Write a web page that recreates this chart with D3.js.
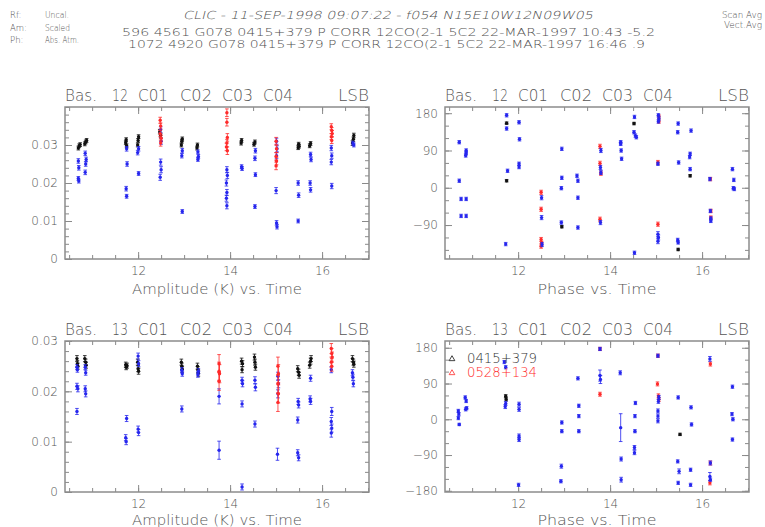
<!DOCTYPE html>
<html>
<head>
<meta charset="utf-8">
<script src="https://cdn.jsdelivr.net/npm/d3@7"></script>
<style>
  body { margin: 0; background: #fff; }
  text { font-family: "DejaVu Sans", sans-serif; fill: #555; }
</style>
</head>
<body>
<div id="chart"></div>
<script>
// times in hours, [time, value, error]
var timeTicks = [12, 14, 16];
var ampTicks = [0, 0.01, 0.02, 0.03];
var phaseTicks = [-180, -90, 0, 90, 180];

var amp12Black = [
  [10.70,0.0292,0.0005],[10.72,0.0298,0.0005],[10.74,0.0301,0.0005],[10.84,0.0303,0.0005],[10.86,0.0308,0.0005],[10.88,0.0312,0.0005],
  [11.73,0.0306,0.0005],[11.74,0.0314,0.0005],[11.75,0.0298,0.0005],
  [11.99,0.0300,0.0005],[12.00,0.0312,0.0005],[12.01,0.0322,0.0005],
  [12.47,0.0335,0.0006],[12.49,0.0325,0.0006],
  [12.94,0.0300,0.0005],[12.95,0.0310,0.0005],[12.96,0.0316,0.0005],
  [13.28,0.0292,0.0005],[13.29,0.0300,0.0005],
  [14.24,0.0305,0.0005],[14.25,0.0312,0.0005],
  [14.52,0.0302,0.0005],[14.54,0.0308,0.0005],
  [15.48,0.0293,0.0005],[15.49,0.0302,0.0005],[15.50,0.0297,0.0005],
  [15.73,0.0298,0.0005],[15.75,0.0304,0.0005],
  [16.66,0.0305,0.0006],[16.68,0.0315,0.0006],[16.69,0.0325,0.0006]
];
var amp12Blue = [
  [10.70,0.0258,0.0006],[10.71,0.0240,0.0006],[10.70,0.0212,0.0005],[10.71,0.0205,0.0005],
  [10.85,0.0278,0.0006],[10.87,0.0262,0.0006],[10.86,0.0250,0.0006],[10.85,0.0228,0.0006],
  [11.75,0.0290,0.0006],[11.76,0.0250,0.0006],[11.74,0.0185,0.0006],[11.75,0.0165,0.0005],
  [11.99,0.0280,0.0006],[12.01,0.0290,0.0006],[12.01,0.0225,0.0005],
  [12.49,0.0340,0.0008],[12.50,0.0310,0.0008],[12.49,0.0255,0.0008],[12.50,0.0235,0.0008],[12.48,0.0215,0.0008],
  [12.96,0.0285,0.0006],[12.95,0.0272,0.0006],[12.96,0.0125,0.0005],
  [13.30,0.0282,0.0005],[13.31,0.0270,0.0005],[13.30,0.0262,0.0005],
  [13.93,0.0235,0.0008],[13.94,0.0220,0.0008],[13.92,0.0200,0.0008],[13.93,0.0175,0.0008],[13.92,0.0160,0.0008],[13.93,0.0140,0.0008],
  [14.25,0.0243,0.0005],[14.26,0.0238,0.0005],
  [14.55,0.0285,0.0006],[14.54,0.0265,0.0006],[14.55,0.0222,0.0005],[14.54,0.0138,0.0005],
  [15.01,0.0310,0.0008],[15.02,0.0290,0.0008],[15.01,0.0272,0.0008],[15.00,0.0180,0.0008],[15.01,0.0095,0.0006],[15.02,0.0085,0.0006],
  [15.48,0.0200,0.0006],[15.49,0.0168,0.0006],[15.48,0.0100,0.0005],
  [15.75,0.0275,0.0006],[15.76,0.0262,0.0006],[15.74,0.0200,0.0006],[15.75,0.0182,0.0006],
  [16.20,0.0292,0.0007],[16.21,0.0272,0.0007],[16.20,0.0255,0.0007],[16.21,0.0192,0.0007],
  [16.67,0.0305,0.0005],[16.69,0.0300,0.0005]
];
var amp12Red = [
  [12.48,0.0365,0.0008],[12.49,0.0350,0.0008],[12.48,0.0330,0.0008],[12.50,0.0318,0.0008],[12.49,0.0305,0.0008],
  [13.93,0.0385,0.0010],[13.93,0.0360,0.0010],[13.94,0.0320,0.0010],[13.93,0.0305,0.0010],[13.92,0.0295,0.0010],[13.94,0.0285,0.0010],
  [15.00,0.0310,0.0010],[15.01,0.0290,0.0010],[15.00,0.0270,0.0010],[15.01,0.0258,0.0010],[15.00,0.0245,0.0010],
  [16.20,0.0348,0.0008],[16.21,0.0338,0.0008],[16.22,0.0330,0.0008],[16.20,0.0322,0.0008],[16.21,0.0312,0.0008]
];

var ph12Black = [[11.75,156,3],[11.75,17,3],[12.95,-94,3],[14.52,155,3],[15.48,-149,3],[15.74,29,3]];
var ph12Blue = [
  [10.72,110,4],[10.72,17,4],[10.76,-27,4],[10.87,-27,4],[10.76,-68,4],[10.87,-68,4],[10.87,90,4],[10.87,84,4],[10.86,78,4],
  [11.75,175,4],[11.75,143,4],[11.77,41,4],[11.73,-136,4],
  [12.02,158,4],[12.03,117,4],[12.02,58,4],[12.02,50,4],
  [12.51,-24,5],[12.51,-72,5],[12.52,-137,5],
  [12.95,94,4],[12.95,24,4],[12.94,-1,4],[12.94,-84,4],
  [13.28,29,4],[13.30,17,4],[13.30,-24,4],[13.30,-96,4],
  [13.80,90,5],[13.79,49,5],[13.80,37,5],[13.79,-84,5],
  [14.23,110,4],[14.23,106,4],[14.24,90,4],[14.25,70,4],
  [14.53,171,4],[14.52,134,4],[14.55,126,4],[14.57,122,4],[14.53,-157,4],
  [15.05,175,4],[15.06,167,4],[15.05,160,4],[15.04,58,4],[15.04,-112,6],[15.05,-120,6],[15.04,-129,6],
  [15.48,155,4],[15.47,134,4],[15.49,61,4],[15.47,-126,4],[15.48,-132,4],
  [15.76,138,4],[15.74,82,4],[15.73,74,4],[15.74,45,4],
  [16.17,21,4],[16.18,-56,4],[16.19,-74,4],[16.19,-80,4],
  [16.66,45,4],[16.69,19,4],[16.68,-1,4],[16.70,-3,4]
];
var ph12Red = [
  [12.50,-11,5],[12.50,-52,5],[12.50,-125,5],[12.51,-134,5],[12.50,-141,5],
  [13.78,100,5],[13.78,59,5],[13.80,35,5],[13.78,-76,5],
  [15.04,61,5],[15.04,-88,5],[15.06,172,4],[15.06,160,4],
  [16.18,21,4],[16.19,-56,4],[16.19,-72,4]
];

var amp13Black = [
  [10.67,0.0265,0.0006],[10.68,0.0255,0.0006],[10.69,0.0250,0.0006],
  [10.84,0.0265,0.0006],[10.86,0.0258,0.0006],[10.87,0.0252,0.0006],
  [11.73,0.0253,0.0005],[11.74,0.0248,0.0005],[11.76,0.0251,0.0005],
  [11.99,0.0258,0.0006],[12.00,0.0245,0.0006],[12.01,0.0240,0.0006],
  [12.94,0.0258,0.0006],[12.95,0.0250,0.0006],[12.96,0.0244,0.0006],
  [13.29,0.0250,0.0006],[13.30,0.0243,0.0006],[13.31,0.0236,0.0006],
  [14.25,0.0260,0.0006],[14.27,0.0255,0.0006],[14.26,0.0243,0.0006],
  [14.53,0.0268,0.0006],[14.54,0.0258,0.0006],[14.55,0.0248,0.0006],
  [15.47,0.0245,0.0006],[15.49,0.0238,0.0006],[15.50,0.0232,0.0006],
  [15.73,0.0252,0.0006],[15.75,0.0260,0.0006],[15.76,0.0265,0.0006],
  [16.66,0.0265,0.0006],[16.68,0.0258,0.0006],[16.69,0.0254,0.0006]
];
var amp13Blue = [
  [10.67,0.0248,0.0005],[10.68,0.0243,0.0005],[10.67,0.0210,0.0006],[10.69,0.0205,0.0006],[10.67,0.0160,0.0006],
  [10.85,0.0248,0.0005],[10.86,0.0237,0.0005],[10.85,0.0205,0.0006],[10.86,0.0195,0.0006],
  [11.75,0.0146,0.0006],[11.73,0.0108,0.0006],[11.74,0.0100,0.0006],
  [12.00,0.0270,0.0006],[12.01,0.0255,0.0006],[12.00,0.0125,0.0006],[12.01,0.0118,0.0006],
  [12.95,0.0242,0.0005],[12.96,0.0235,0.0005],[12.95,0.0165,0.0006],
  [13.31,0.0240,0.0005],[13.30,0.0233,0.0005],
  [13.76,0.0190,0.0015],[13.76,0.0083,0.0018],
  [14.26,0.0222,0.0006],[14.27,0.0215,0.0006],[14.26,0.0175,0.0006],[14.26,0.0010,0.0006],
  [14.54,0.0222,0.0007],[14.55,0.0208,0.0007],[14.54,0.0135,0.0006],
  [15.04,0.0230,0.0008],[15.05,0.0215,0.0008],[15.04,0.0195,0.0008],[15.03,0.0075,0.0012],
  [15.48,0.0180,0.0006],[15.49,0.0173,0.0006],[15.47,0.0143,0.0006],[15.47,0.0078,0.0006],[15.49,0.0068,0.0006],
  [15.75,0.0226,0.0006],[15.74,0.0185,0.0006],[15.75,0.0180,0.0006],
  [16.20,0.0243,0.0006],[16.21,0.0160,0.0008],[16.20,0.0140,0.0008],[16.21,0.0127,0.0008],[16.20,0.0117,0.0008],
  [16.66,0.0237,0.0006],[16.67,0.0228,0.0006],[16.68,0.0215,0.0006]
];
var amp13Red = [
  [13.76,0.0255,0.0018],[13.76,0.0240,0.0018],[13.77,0.0235,0.0018],[13.76,0.0220,0.0018],
  [15.04,0.0250,0.0018],[15.05,0.0235,0.0018],[15.04,0.0215,0.0018],[15.05,0.0195,0.0018],[15.04,0.0178,0.0018],
  [16.20,0.0285,0.0010],[16.21,0.0275,0.0010],[16.22,0.0268,0.0010],[16.20,0.0258,0.0010],[16.21,0.0250,0.0010]
];

var ph13Black = [[11.73,58,4],[11.74,50,4],[15.52,-38,3]];
var ph13Blue = [
  [10.70,21,4],[10.71,13,4],[10.70,3,4],[10.72,-13,3],
  [10.85,55,4],[10.87,46,4],[10.86,25,4],[10.88,28,4],
  [11.70,144,4],[11.73,131,4],[11.73,40,5],[11.72,32,5],
  [12.02,38,5],[12.02,25,5],[12.02,-42,5],[12.02,-51,5],[12.01,-165,4],
  [12.95,-8,4],[12.95,-30,4],[12.94,-118,5],[12.93,-156,4],
  [13.30,103,4],[13.32,34,4],[13.32,8,4],[13.32,-30,4],
  [13.78,177,4],[13.78,110,14],[13.79,100,10],
  [14.22,117,5],[14.23,-21,35],[14.24,-100,5],[14.24,-152,6],
  [14.55,41,4],[14.54,8,4],[14.54,-30,4],[14.53,-71,5],[14.53,-84,5],
  [15.04,160,4],[15.06,55,5],[15.05,45,5],[15.04,21,5],[15.04,8,5],[15.04,-4,5],
  [15.48,55,4],[15.47,-106,4],[15.50,-131,6],[15.48,-160,4],
  [15.76,30,4],[15.77,-13,4],[15.75,-127,4],[15.75,-165,4],
  [16.18,-110,5],[16.17,152,6],[16.17,-144,10],[16.18,-152,4],
  [16.66,82,4],[16.65,13,4],[16.67,0,4],[16.66,-51,4]
];
var ph13Red = [
  [13.78,177,4],[13.78,63,5],[15.03,89,5],[15.05,59,5],[15.06,50,5],[15.04,160,4],
  [16.18,139,5],[16.18,-110,5],[16.17,-160,5]
];

var legendSources = ["0415+379", "0528+134"];
var colors = {black: "#111", blue: "#2626ee", red: "#ff2b2b"};

var W = 765, H = 527;
var svg = d3.select("#chart").append("svg")
  .attr("width", W).attr("height", H);

// header
function txt(x, y, s, size, opts) {
  var t = svg.append("text").attr("x", x).attr("y", y)
    .style("font-size", size + "px").style("font-weight", 200).style("fill", "#505050").text(s);
  if (opts && opts.len) t.attr("textLength", opts.len).attr("lengthAdjust", "spacingAndGlyphs");
  if (opts && opts.anchor) t.attr("text-anchor", opts.anchor);
  if (opts && opts.skew) {
    // slanted like the plotter's italic font, without the synthetic bold face
    t.attr("x", 0).attr("y", 0)
      .attr("transform", "translate(" + x + "," + y + ") skewX(-14)");
  }
  return t;
}
txt(10, 18, "Rf:", 8.5); txt(45, 18, "Uncal.", 8.5, {len: 24});
txt(10, 31, "Am:", 8.5); txt(45, 31, "Scaled", 8.5, {len: 25});
txt(10, 43, "Ph:", 8.5); txt(45, 43, "Abs. Atm.", 8.5, {len: 34});
txt(183, 19, "CLIC - 11-SEP-1998 09:07:22 - f054  N15E10W12N09W05", 11, {len: 410, skew: true});
txt(122, 36, "596 4561 G078 0415+379 P CORR 12CO(2-1 5C2 22-MAR-1997 10:43 -5.2", 11, {len: 533});
txt(128, 48, "1072 4920 G078 0415+379 P CORR 12CO(2-1 5C2 22-MAR-1997 16:46 .9", 11, {len: 517});
txt(762, 18, "Scan Avg", 8.5, {anchor: "end", len: 40});
txt(762, 28, "Vect.Avg", 8.5, {anchor: "end", len: 38});

var PW = 304;

function panel(o) {
  var g = svg.append("g").attr("transform", "translate(" + o.x0 + "," + o.y0 + ")");
  var x = d3.scaleLinear().domain([10.41, 17.02]).range([0, PW]);
  var y = d3.scaleLinear().domain(o.yDomain).range([o.h, 0]);

  // title words
  var words = [["Bas.", 0, 32], [o.base, 47, 16], ["C01", 73, 30], ["C02", 115, 32], ["C03", 157, 31], ["C04", 198, 30]];
  words.forEach(function (w) {
    g.append("text").attr("x", w[1]).attr("y", -6).style("font-size", "15px").style("font-weight", 200)
      .attr("textLength", w[2]).attr("lengthAdjust", "spacingAndGlyphs").text(w[0]);
  });
  g.append("text").attr("x", PW).attr("y", -6).attr("text-anchor", "end").style("font-size", "15px")
    .style("font-weight", 200)
    .attr("textLength", 31).attr("lengthAdjust", "spacingAndGlyphs").text("LSB");

  var minorX = d3.range(10.5, 17.01, 0.5);
  var minorY = d3.range(o.minor[0], o.minor[1] + 1e-9, o.minor[2]);

  function axes(axisFn, scale, tr, minor, major, labels, pad, fmt) {
    var a1 = g.append("g").attr("transform", tr)
      .call(axisFn(scale).tickValues(minor).tickSize(-4).tickFormat(""));
    var a2 = g.append("g").attr("transform", tr)
      .call(axisFn(scale).tickValues(major).tickSize(-7).tickPadding(pad)
        .tickFormat(labels ? fmt : ""));
    [a1, a2].forEach(function (a) {
      a.select(".domain").remove();
      a.selectAll("line").attr("stroke", "#8a8a8a").attr("stroke-width", 1);
      a.selectAll("text").style("font-size", "12px").attr("fill", "#5a5a5a")
        .style("font-weight", 200)
        .style("font-family", "DejaVu Sans, sans-serif");
    });
  }
  axes(d3.axisBottom, x, "translate(0," + o.h + ")", minorX, timeTicks, true, 7, d3.format("d"));
  axes(d3.axisTop, x, "translate(0,0)", minorX, timeTicks, false, 0);
  axes(d3.axisLeft, y, "translate(0,0)", minorY, o.yTicks, true, 7, o.fmt);
  axes(d3.axisRight, y, "translate(" + PW + ",0)", minorY, o.yTicks, false, 0);

  g.append("rect").attr("width", PW).attr("height", o.h)
    .attr("fill", "none").attr("stroke", "#8c8c8c").attr("stroke-width", 1.5);

  g.append("text").attr("x", PW / 2).attr("y", o.h + o.labelDy).attr("text-anchor", "middle")
    .style("font-size", "14px").style("font-weight", 200)
    .attr("textLength", o.xlabelLen).attr("lengthAdjust", "spacingAndGlyphs")
    .text(o.xlabel);

  var plot = g.append("g");
  o.series.forEach(function (s) {
    var col = colors[s.color];
    var pts = plot.append("g").selectAll("g").data(s.data).enter().append("g")
      .attr("transform", function (d) { return "translate(" + x(d[0]) + ",0)"; });
    pts.append("line")
      .attr("y1", function (d) { return y(d[1] - d[2]); })
      .attr("y2", function (d) { return y(d[1] + d[2]); })
      .attr("stroke", col).attr("stroke-width", 1).attr("opacity", 0.8);
    pts.append("path")
      .attr("d", function (d) {
        var a = y(d[1] - d[2]), b = y(d[1] + d[2]);
        return "M-1.8," + a + "H1.8M-1.8," + b + "H1.8";
      })
      .attr("stroke", col).attr("stroke-width", 1).attr("opacity", 0.8);
    pts.append("circle").attr("cy", function (d) { return y(d[1]); })
      .attr("r", 1.7).attr("fill", col);
  });

  if (o.legend) {
    o.legend.forEach(function (l, i) {
      var ly = 22 + i * 14;
      g.append("path").attr("d", d3.symbol(d3.symbolTriangle, 14)())
        .attr("transform", "translate(7," + (ly - 4) + ")")
        .attr("fill", "none").attr("stroke", colors[l.color]).attr("stroke-width", 0.8);
      g.append("text").attr("x", 22).attr("y", ly).style("font-size", "13.5px")
        .style("font-weight", 200)
        .style("fill", l.color == "red" ? colors.red : "#333")
        .attr("textLength", 70).attr("lengthAdjust", "spacingAndGlyphs")
        .text(l.name);
    });
  }
}

var ampFmt = function (d) { return d === 0 ? "0" : d3.format(".2f")(d); };
var phFmt = function (d) { return d < 0 ? "\u2212" + (-d) : "" + d; };

panel({x0: 65, y0: 107, h: 152, base: "12", yDomain: [0, 0.04], yTicks: ampTicks,
  minor: [0, 0.04, 0.002], fmt: ampFmt, xlabel: "Amplitude (K)  vs.  Time", xlabelLen: 170, labelDy: 35,
  series: [{color: "black", data: amp12Black}, {color: "blue", data: amp12Blue}, {color: "red", data: amp12Red}]});
panel({x0: 445, y0: 107, h: 152, base: "12", yDomain: [-172, 195], yTicks: phaseTicks.filter(function (d) { return d > -172; }),
  minor: [-150, 180, 30], fmt: phFmt, xlabel: "Phase  vs.  Time", xlabelLen: 119, labelDy: 35,
  series: [{color: "black", data: ph12Black}, {color: "red", data: ph12Red}, {color: "blue", data: ph12Blue}]});
panel({x0: 65, y0: 341, h: 151, base: "13", yDomain: [0, 0.03], yTicks: ampTicks,
  minor: [0, 0.03, 0.002], fmt: ampFmt, xlabel: "Amplitude (K)  vs.  Time", xlabelLen: 170, labelDy: 33,
  series: [{color: "black", data: amp13Black}, {color: "blue", data: amp13Blue}, {color: "red", data: amp13Red}]});
panel({x0: 445, y0: 341, h: 151, base: "13", yDomain: [-183, 197], yTicks: phaseTicks,
  minor: [-180, 180, 30], fmt: phFmt, xlabel: "Phase  vs.  Time", xlabelLen: 119, labelDy: 33,
  series: [{color: "black", data: ph13Black}, {color: "red", data: ph13Red}, {color: "blue", data: ph13Blue}],
  legend: [{name: legendSources[0], color: "black"}, {name: legendSources[1], color: "red"}]});
</script>
</body>
</html>
